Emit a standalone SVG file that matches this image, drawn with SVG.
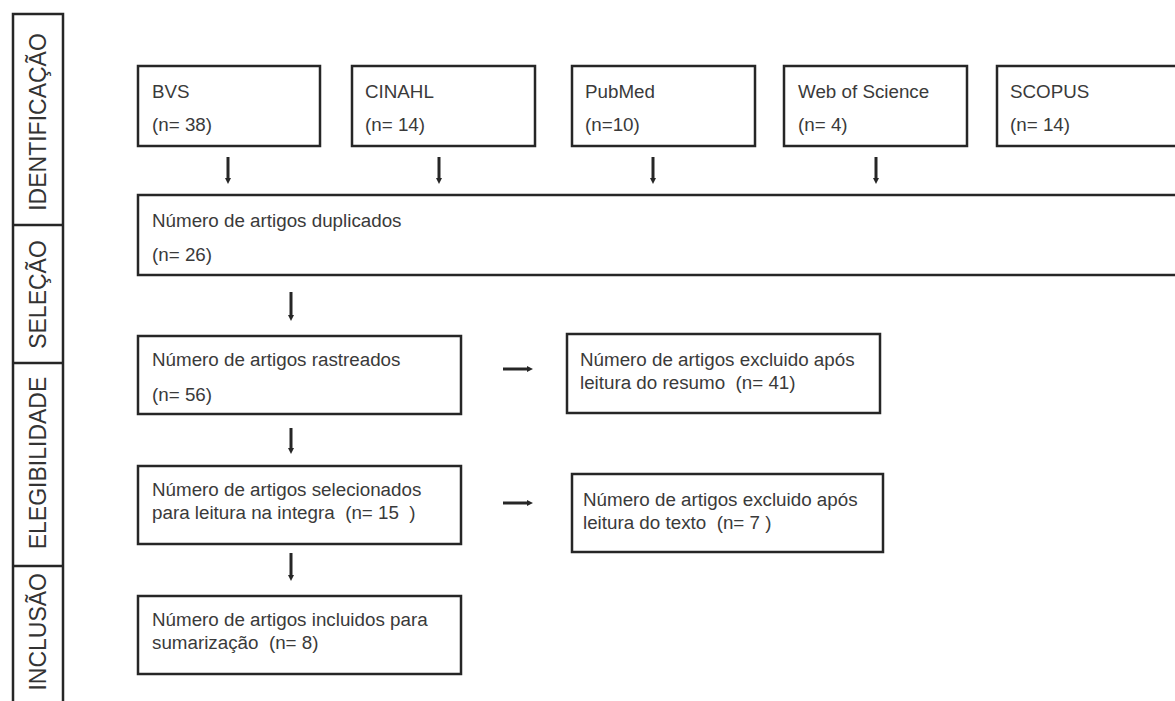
<svg xmlns="http://www.w3.org/2000/svg" width="1175" height="701" viewBox="0 0 1175 701">
  <style>
    .box { fill: #ffffff; stroke: #262626; stroke-width: 2.5; }
    .t { font-family: "Liberation Sans", Arial, sans-serif; font-size: 18.8px; fill: #3a3a3a; white-space: pre; }
    .phase { font-family: "Liberation Sans", Arial, sans-serif; font-size: 23px; fill: #333333; }
    .arrow { stroke: #262626; stroke-width: 3; fill: none; marker-end: url(#ah); }
    .div { stroke: #262626; stroke-width: 2.5; }
  </style>
  <defs>
    <marker id="ah" markerUnits="userSpaceOnUse" markerWidth="6" markerHeight="6" viewBox="0 0 6 6" refX="2" refY="3" orient="auto">
      <path d="M0,0 L6,3 L0,6 z" fill="#262626"/>
    </marker>
  </defs>
  <rect width="1175" height="701" fill="#ffffff"/>

  <g id="phases">
    <rect class="box" x="13" y="14" width="50" height="700"/>
    <line class="div" x1="13" y1="225" x2="63" y2="225"/>
    <line class="div" x1="13" y1="363" x2="63" y2="363"/>
    <line class="div" x1="13" y1="566" x2="63" y2="566"/>
    <text class="phase" transform="translate(46,122) rotate(-90)" text-anchor="middle">IDENTIFICAÇÃO</text>
    <text class="phase" transform="translate(46,294.5) rotate(-90)" text-anchor="middle">SELEÇÃO</text>
    <text class="phase" transform="translate(46,463) rotate(-90)" text-anchor="middle">ELEGIBILIDADE</text>
    <text class="phase" transform="translate(46,573) rotate(-90)" text-anchor="end">INCLUSÃO</text>
  </g>

  <g id="bvs">
    <rect class="box" x="138" y="66" width="182" height="80"/>
    <text class="t" x="152" y="98">BVS</text>
    <text class="t" x="152" y="131">(n= 38)</text>
  </g>
  <g id="cinahl">
    <rect class="box" x="352" y="66" width="183" height="80"/>
    <text class="t" x="365" y="98">CINAHL</text>
    <text class="t" x="365" y="131">(n= 14)</text>
  </g>
  <g id="pubmed">
    <rect class="box" x="572" y="66" width="183" height="80"/>
    <text class="t" x="585" y="98">PubMed</text>
    <text class="t" x="585" y="131">(n=10)</text>
  </g>
  <g id="wos">
    <rect class="box" x="784" y="66" width="183" height="80"/>
    <text class="t" x="798" y="98">Web of Science</text>
    <text class="t" x="798" y="131">(n= 4)</text>
  </g>
  <g id="scopus">
    <rect class="box" x="997" y="66" width="200" height="80"/>
    <text class="t" x="1010" y="98">SCOPUS</text>
    <text class="t" x="1010" y="131">(n= 14)</text>
  </g>

  <g id="duplicados">
    <rect class="box" x="138" y="195" width="1060" height="80"/>
    <text class="t" x="152" y="227">Número de artigos duplicados</text>
    <text class="t" x="152" y="261">(n= 26)</text>
  </g>

  <g id="rastreados">
    <rect class="box" x="138" y="336" width="323" height="78"/>
    <text class="t" x="152" y="366">Número de artigos rastreados</text>
    <text class="t" x="152" y="401">(n= 56)</text>
  </g>

  <g id="excluido-resumo">
    <rect class="box" x="567" y="334" width="313" height="79"/>
    <text class="t" x="580" y="366">Número de artigos excluido após</text>
    <text class="t" x="580" y="389" xml:space="preserve">leitura do resumo  (n= 41)</text>
  </g>

  <g id="selecionados">
    <rect class="box" x="138" y="466" width="323" height="78"/>
    <text class="t" x="152" y="496">Número de artigos selecionados</text>
    <text class="t" x="152" y="519" xml:space="preserve">para leitura na integra  (n= 15  )</text>
  </g>

  <g id="excluido-texto">
    <rect class="box" x="572" y="474" width="311" height="78"/>
    <text class="t" x="583" y="506">Número de artigos excluido após</text>
    <text class="t" x="583" y="529" xml:space="preserve">leitura do texto  (n= 7 )</text>
  </g>

  <g id="incluidos">
    <rect class="box" x="138" y="596" width="323" height="78"/>
    <text class="t" x="152" y="626">Número de artigos incluidos para</text>
    <text class="t" x="152" y="649" xml:space="preserve">sumarização  (n= 8)</text>
  </g>

  <g id="connectors">
    <line class="arrow" x1="228" y1="157" x2="228" y2="180"/>
    <line class="arrow" x1="439" y1="157" x2="439" y2="180"/>
    <line class="arrow" x1="653" y1="157" x2="653" y2="180"/>
    <line class="arrow" x1="876" y1="157" x2="876" y2="180"/>
    <line class="arrow" x1="291" y1="292" x2="291" y2="317"/>
    <line class="arrow" x1="291" y1="428" x2="291" y2="450"/>
    <line class="arrow" x1="291" y1="553" x2="291" y2="577"/>
    <line class="arrow" x1="503" y1="369" x2="529" y2="369"/>
    <line class="arrow" x1="503" y1="503" x2="529" y2="503"/>
  </g>
</svg>
